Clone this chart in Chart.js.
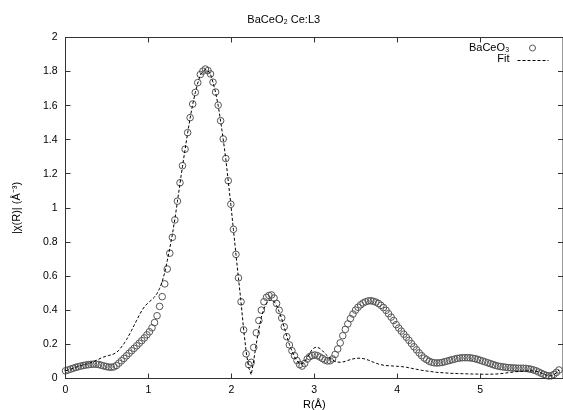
<!DOCTYPE html>
<html><head><meta charset="utf-8">
<script src="https://cdn.jsdelivr.net/npm/chart.js@4/dist/chart.umd.min.js"></script>
<style>html,body{margin:0;padding:0;background:#fff;overflow:hidden}#wrap{width:568px;height:410px}</style>
</head><body><div id="wrap"><canvas id="c" width="568" height="410"></canvas></div>
<script>
const chartTitle = 'BaCeO\u2082 Ce:L3';
const xTitle = 'R(\u00C5)';
const yTitle = '|\u03C7(R)| (\u00C5\u207B\u00B3)';
const seriesNames = ['BaCeO\u2083', 'Fit'];
const xTickLabels = ['0', '1', '2', '3', '4', '5', ''];

const rValues = [
0.000,0.031,0.061,0.092,0.123,0.153,0.184,0.215,0.245,0.276,
0.307,0.337,0.368,0.399,0.430,0.460,0.491,0.522,0.552,0.583,
0.614,0.644,0.675,0.706,0.736,0.767,0.798,0.828,0.859,0.890,
0.920,0.951,0.982,1.012,1.043,1.074,1.104,1.135,1.166,1.197,
1.227,1.258,1.289,1.319,1.350,1.381,1.411,1.442,1.473,1.503,
1.534,1.565,1.595,1.626,1.657,1.687,1.718,1.749,1.779,1.810,
1.841,1.871,1.902,1.933,1.963,1.994,2.025,2.056,2.086,2.117,
2.148,2.178,2.209,2.240,2.270,2.301,2.332,2.362,2.393,2.424,
2.454,2.485,2.516,2.546,2.577,2.608,2.638,2.669,2.700,2.731,
2.761,2.792,2.823,2.853,2.884,2.915,2.945,2.976,3.007,3.037,
3.068,3.099,3.129,3.160,3.191,3.221,3.252,3.283,3.313,3.344,
3.375,3.405,3.436,3.467,3.498,3.528,3.559,3.590,3.620,3.651,
3.682,3.712,3.743,3.774,3.804,3.835,3.866,3.896,3.927,3.958,
3.988,4.019,4.050,4.080,4.111,4.142,4.172,4.203,4.234,4.265,
4.295,4.326,4.357,4.387,4.418,4.449,4.479,4.510,4.541,4.571,
4.602,4.633,4.663,4.694,4.725,4.755,4.786,4.817,4.847,4.878,
4.909,4.939,4.970,5.001,5.032,5.062,5.093,5.124,5.154,5.185,
5.216,5.246,5.277,5.308,5.338,5.369,5.400,5.430,5.461,5.492,
5.522,5.553,5.584,5.614,5.645,5.676,5.706,5.737,5.768,5.798,
5.829,5.860,5.890,5.921,5.952];

const dataValues = [
0.045,0.050,0.055,0.060,0.065,0.069,0.073,0.076,0.079,0.081,
0.083,0.084,0.084,0.082,0.078,0.074,0.070,0.067,0.066,0.068,
0.076,0.090,0.104,0.118,0.133,0.148,0.163,0.177,0.192,0.207,
0.222,0.238,0.256,0.274,0.297,0.328,0.368,0.423,0.480,0.555,
0.642,0.735,0.828,0.930,1.040,1.148,1.248,1.345,1.442,1.530,
1.610,1.678,1.735,1.783,1.803,1.815,1.806,1.786,1.738,1.680,
1.603,1.512,1.405,1.290,1.160,1.022,0.875,0.728,0.590,0.450,
0.285,0.145,0.082,0.095,0.182,0.268,0.340,0.401,0.450,0.476,
0.487,0.490,0.472,0.440,0.400,0.355,0.303,0.245,0.197,0.163,
0.134,0.105,0.082,0.073,0.088,0.114,0.128,0.135,0.138,0.134,
0.126,0.117,0.108,0.103,0.104,0.115,0.141,0.173,0.209,0.251,
0.288,0.320,0.351,0.378,0.401,0.418,0.432,0.443,0.450,0.455,
0.456,0.453,0.448,0.440,0.429,0.416,0.400,0.380,0.360,0.340,
0.316,0.296,0.278,0.260,0.242,0.224,0.205,0.186,0.168,0.150,
0.134,0.120,0.110,0.101,0.095,0.092,0.091,0.092,0.094,0.098,
0.102,0.106,0.110,0.114,0.118,0.120,0.122,0.122,0.122,0.121,
0.119,0.116,0.112,0.107,0.102,0.097,0.092,0.087,0.082,0.077,
0.073,0.070,0.068,0.066,0.064,0.063,0.062,0.061,0.060,0.060,
0.060,0.059,0.057,0.054,0.050,0.045,0.038,0.031,0.024,0.018,
0.015,0.016,0.024,0.036,0.050];

const fitValues = [
0.045,0.050,0.055,0.060,0.066,0.071,0.076,0.080,0.084,0.088,
0.093,0.099,0.106,0.113,0.120,0.126,0.131,0.135,0.139,0.144,
0.152,0.166,0.185,0.205,0.228,0.255,0.283,0.312,0.342,0.372,
0.398,0.420,0.437,0.450,0.463,0.478,0.498,0.528,0.568,0.622,
0.690,0.765,0.845,0.935,1.038,1.145,1.245,1.343,1.440,1.528,
1.608,1.676,1.733,1.780,1.802,1.812,1.805,1.784,1.737,1.678,
1.602,1.510,1.404,1.288,1.158,1.020,0.874,0.726,0.588,0.448,
0.290,0.160,0.065,0.022,0.105,0.205,0.290,0.360,0.410,0.442,
0.458,0.460,0.452,0.428,0.392,0.350,0.300,0.248,0.200,0.160,
0.126,0.102,0.088,0.087,0.100,0.122,0.148,0.170,0.182,0.183,
0.176,0.163,0.147,0.132,0.118,0.108,0.100,0.096,0.095,0.097,
0.101,0.106,0.111,0.115,0.118,0.119,0.119,0.117,0.113,0.108,
0.102,0.096,0.090,0.085,0.081,0.078,0.076,0.075,0.074,0.073,
0.072,0.071,0.070,0.068,0.066,0.063,0.060,0.057,0.054,0.051,
0.048,0.046,0.044,0.042,0.040,0.038,0.036,0.035,0.034,0.033,
0.032,0.031,0.030,0.030,0.029,0.029,0.028,0.028,0.027,0.027,
0.026,0.026,0.026,0.025,0.025,0.025,0.025,0.025,0.026,0.026,
0.027,0.028,0.030,0.032,0.034,0.036,0.038,0.040,0.041,0.042,
0.043,0.044,0.045,0.045,0.044,0.042,0.038,0.032,0.026,0.020,
0.016,0.016,0.022,0.034,0.050];

const FONT = '"Liberation Sans", Arial, Helvetica, sans-serif';

const framePlugin = {
  id: 'frame',
  afterDatasetsDraw(chart) {
    const {ctx, chartArea: a, scales: {x, y}} = chart;
    ctx.save();
    ctx.strokeStyle = '#333';
    ctx.lineWidth = 1;
    ctx.strokeRect(a.left, a.top, a.right - a.left, a.bottom - a.top);
    ctx.beginPath();
    x.ticks.forEach(t => {
      const px = Math.floor(x.getPixelForValue(t.value)) + 0.5;
      ctx.moveTo(px, a.bottom); ctx.lineTo(px, a.bottom - 5);
      ctx.moveTo(px, a.top); ctx.lineTo(px, a.top + 5);
    });
    y.ticks.forEach(t => {
      const py = Math.floor(y.getPixelForValue(t.value)) + 0.5;
      ctx.moveTo(a.left, py); ctx.lineTo(a.left + 5, py);
      ctx.moveTo(a.right, py); ctx.lineTo(a.right - 5, py);
    });
    ctx.stroke();

    // legend (inside, top-right)
    const ds = chart.data.datasets;
    ctx.font = '11px ' + FONT;
    ctx.fillStyle = '#000';
    ctx.textAlign = 'right';
    ctx.textBaseline = 'middle';
    const tx = a.right - 53.5;
    const y1 = a.top + 10.5, y2 = a.top + 21.5;
    ctx.fillText(ds[0].label, tx, y1);
    ctx.fillText(ds[1].label, tx, y2);
    ctx.beginPath();
    ctx.strokeStyle = ds[0].borderColor;
    ctx.arc(a.right - 30.5, y1, 3, 0, Math.PI * 2);
    ctx.stroke();
    ctx.beginPath();
    ctx.strokeStyle = ds[1].borderColor;
    ctx.setLineDash(ds[1].borderDash);
    ctx.moveTo(a.right - 45.5, y2 + 1.5);
    ctx.lineTo(a.right - 14.5, y2 + 1.5);
    ctx.stroke();
    ctx.restore();
  }
};

new Chart(document.getElementById('c'), {
  type: 'scatter',
  data: {
    datasets: [
      {
        label: seriesNames[0],
        data: rValues.map((r, i) => ({x: r, y: dataValues[i]})),
        showLine: false,
        pointStyle: 'circle',
        pointRadius: 3.3,
        pointBorderWidth: 1,
        borderColor: '#555',
        backgroundColor: 'rgba(0,0,0,0)',
        pointBackgroundColor: 'rgba(0,0,0,0)',
        pointBorderColor: '#555',
        clip: 5,
        order: 2
      },
      {
        label: seriesNames[1],
        data: rValues.map((r, i) => ({x: r, y: fitValues[i]})),
        showLine: true,
        pointRadius: 0,
        borderColor: '#000',
        borderWidth: 1,
        borderDash: [3, 2],
        backgroundColor: 'rgba(0,0,0,0)',
        tension: 0,
        order: 1
      }
    ]
  },
  options: {
    responsive: false,
    animation: false,
    devicePixelRatio: 1,
    layout: {padding: {left: 0, right: 0.5, top: 0, bottom: 0}},
    plugins: {
      legend: {display: false},
      tooltip: {enabled: false},
      title: {
        display: true,
        text: chartTitle,
        color: '#000',
        font: {family: FONT, size: 11, weight: 'normal', lineHeight: 1.2},
        padding: {top: 13.4, bottom: 10.9}
      }
    },
    scales: {
      x: {
        type: 'linear',
        min: 0, max: 6,
        grid: {display: false, drawTicks: false},
        border: {display: false},
        ticks: {stepSize: 1, color: '#000', padding: 5, maxRotation: 0,
                font: {family: FONT, size: 10.5},
                callback: (v, i) => xTickLabels[i] !== undefined ? xTickLabels[i] : ''},
        title: {display: true, text: xTitle, color: '#000',
                font: {family: FONT, size: 11}, padding: {top: 0, bottom: -1.6}},
        afterFit(s) { s.height = 31.5; s.paddingLeft = 0; s.paddingRight = 0; }
      },
      y: {
        type: 'linear',
        min: 0, max: 2,
        grid: {display: false, drawTicks: false},
        border: {display: false},
        ticks: {stepSize: 0.2, color: '#000', padding: 8,
                font: {family: FONT, size: 10.5},
                callback: v => String(Number(v.toFixed(1)))},
        title: {display: true, text: yTitle, color: '#000',
                font: {family: FONT, size: 11}, padding: {top: 10.4, bottom: 0}},
        afterFit(s) { s.width = 65.5; s.paddingTop = 0; s.paddingBottom = 0; }
      }
    }
  },
  plugins: [framePlugin]
});
</script>
</body></html>
